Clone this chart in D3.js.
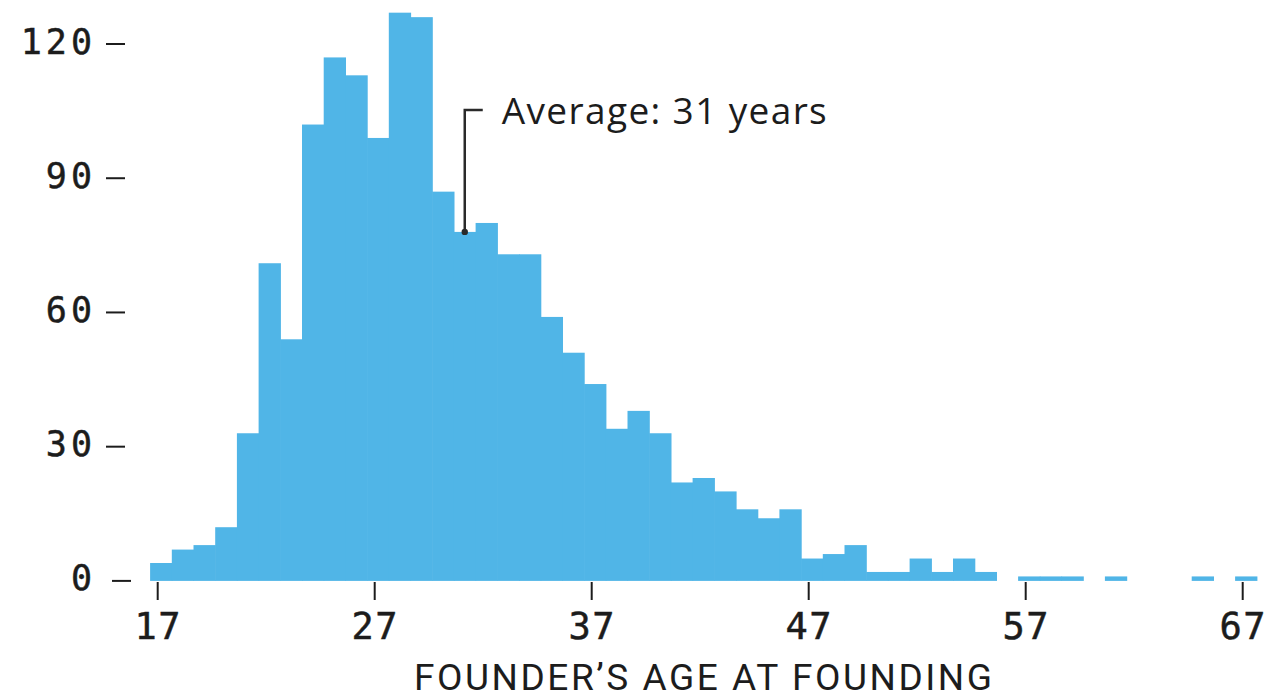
<!DOCTYPE html>
<html>
<head>
<meta charset="utf-8">
<script src="https://cdn.jsdelivr.net/npm/d3@7"></script>
<style>
  html, body { margin: 0; padding: 0; background: #ffffff; }
  svg { display: block; }
</style>
</head>
<body>
<svg id="chart" width="1268" height="700"></svg>
<script>
// ---- data ----
const ages   = [17,18,19,20,21,22,23,24,25,26,27,28,29,30,31,32,33,34,35,36,37,38,39,40,41,42,43,44,45,46,47,48,49,50,51,52,53,54,55,56,57,58,59,60,61,62,63,64,65,66,67];
const counts = [4,7,8,12,33,71,54,102,117,113,99,127,126,87,78,80,73,73,59,51,44,34,38,33,22,23,20,16,14,16,5,6,8,2,2,5,2,5,2,0,1,1,1,0,1,0,0,0,1,0,1];
const xTicks = [17,27,37,47,57,67];
const yTicks = [0,30,60,90,120];
const avgAge = 31;
const avgLabel = "Average: 31 years";
const xTitle = "FOUNDER\u2019S AGE AT FOUNDING";

// ---- layout ----
const svg = d3.select("#chart");
const x = d3.scaleLinear().domain([17, 67]).range([157.7, 1242.7]);
const y = d3.scaleLinear().domain([0, 120]).range([580.9, 44]);
const binStart = -0.35, binEnd = 0.65;
const barColor = "#50b5e7";
const ink = "#1c1c1c";

const data = ages.map((a, i) => ({age: a, n: counts[i]}));

// bars
svg.append("g").selectAll("rect")
  .data(data.filter(d => d.n > 0))
  .join("rect")
  .attr("x", d => x(d.age + binStart))
  .attr("width", d => x(d.age + binEnd) - x(d.age + binStart) + 0.6)
  .attr("y", d => y(d.n))
  .attr("height", d => y(0) - y(d.n))
  .attr("fill", barColor);

// y axis labels and dashes
const numFont = "'DejaVu Sans Mono', monospace";
const yg = svg.append("g");
yTicks.forEach(t => {
  yg.append("text")
    .attr("x", 92 + 4)
    .attr("y", y(t) + 9.5)
    .attr("text-anchor", "end")
    .attr("font-family", numFont)
    .attr("font-size", 35)
    .attr("letter-spacing", 4)
    .attr("stroke", ink)
    .attr("stroke-width", 0.5)
    .attr("fill", ink)
    .text(t);
  const x0 = t === 0 ? 112 : 106;
  yg.append("line")
    .attr("x1", x0).attr("x2", x0 + 19)
    .attr("y1", y(t)).attr("y2", y(t))
    .attr("stroke", ink).attr("stroke-width", 2);
});

// x axis ticks and labels
const xg = svg.append("g");
xTicks.forEach(t => {
  xg.append("line")
    .attr("x1", x(t)).attr("x2", x(t))
    .attr("y1", 582).attr("y2", 600)
    .attr("stroke", ink).attr("stroke-width", 2);
  xg.append("text")
    .attr("x", x(t) + 0.5)
    .attr("y", 639)
    .attr("text-anchor", "middle")
    .attr("font-family", numFont)
    .attr("font-size", 37)
    .attr("letter-spacing", 1.5)
    .attr("stroke", ink)
    .attr("stroke-width", 0.5)
    .attr("fill", ink)
    .text(t);
});

// x title
svg.append("text")
  .attr("x", 703)
  .attr("y", 690)
  .attr("text-anchor", "middle")
  .attr("font-family", "Roboto, 'Open Sans', sans-serif")
  .attr("font-size", 37)
  .attr("textLength", 578)
  .attr("lengthAdjust", "spacing")
  .attr("fill", ink)
  .text(xTitle);

// average annotation
const avgIdx = ages.indexOf(avgAge);
const ax = x(avgAge + (binStart + binEnd) / 2);
const ay = y(counts[avgIdx]);
const ag = svg.append("g");
ag.append("path")
  .attr("d", `M${ax},${ay} V110 H${ax + 18}`)
  .attr("fill", "none")
  .attr("stroke", "#2a2a2a")
  .attr("stroke-width", 2.5);
ag.append("circle")
  .attr("cx", ax).attr("cy", ay).attr("r", 3.2)
  .attr("fill", "#2a2a2a");
ag.append("text")
  .attr("x", ax + 37)
  .attr("y", 124)
  .attr("font-family", "'Open Sans', Roboto, sans-serif")
  .attr("font-size", 37)
  .attr("textLength", 325)
  .attr("lengthAdjust", "spacing")
  .attr("fill", ink)
  .text(avgLabel);
</script>
</body>
</html>
